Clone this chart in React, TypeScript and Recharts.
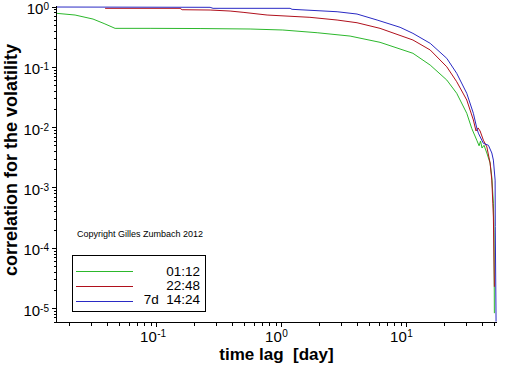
import { LineChart, Line, XAxis, YAxis, Legend } from 'recharts';

// time lag in days, correlation of the volatility
const greenLag = [0.0158, 0.0222, 0.0309, 0.0379, 0.0464, 0.0884, 0.222, 0.558, 1.02, 1.92, 3.52, 6.11, 11.2, 15.4, 20.9, 25.1, 30.2, 33.1, 36.3, 37.9, 38.9, 40.0, 41.5, 43.7, 46.4, 47.9, 49.3, 49.9, 50.2];
const greenCorr = [0.786, 0.737, 0.632, 0.532, 0.443, 0.443, 0.44, 0.432, 0.416, 0.375, 0.33, 0.26, 0.171, 0.109, 0.0616, 0.0371, 0.0173, 0.0097, 0.0062, 0.005, 0.006, 0.0046, 0.0051, 0.0038, 0.0026, 0.0015, 0.00056, 0.00018, 8.4e-6];

const redLag = [0.0386, 0.1536, 0.1594, 0.267, 0.386, 0.49, 0.763, 1.68, 2.77, 4.0, 6.11, 11.2, 15.4, 20.9, 25.1, 30.2, 34.1, 35.8, 37.2, 38.6, 41.0, 43.7, 46.4, 47.9, 48.8, 49.3, 50.2];
const redCorr = [0.952, 0.952, 0.902, 0.892, 0.858, 0.817, 0.737, 0.675, 0.609, 0.549, 0.443, 0.284, 0.194, 0.102, 0.0577, 0.0287, 0.0134, 0.0088, 0.0099, 0.0088, 0.0062, 0.0048, 0.0026, 0.00135, 0.00056, 0.00033, 2.3e-5];

const blueLag = [0.0158, 0.267, 0.282, 1.165, 1.209, 2.77, 4.0, 5.79, 8.84, 11.2, 15.4, 20.9, 25.1, 30.2, 34.1, 36.3, 37.4, 41.0, 45.0, 47.9, 49.3, 50.9, 51.05, 51.8];
const blueCorr = [1.0, 0.989, 0.952, 0.952, 0.916, 0.836, 0.765, 0.609, 0.461, 0.366, 0.25, 0.141, 0.0795, 0.0371, 0.0173, 0.0099, 0.0081, 0.0055, 0.0051, 0.0038, 0.0029, 0.00135, 0.00023, 6.1e-6];

const seriesNames = ['01:12', '22:48', '7d  14:24'];
const seriesColors = ['#2cb82c', '#b0101c', '#2a2ac4'];

const X_DOMAIN = [0.015625, 52.7];
const Y_DOMAIN = [6e-6, 1.04];

const FONT = '"Liberation Sans", Arial, sans-serif';

const toPoints = (lag: number[], corr: number[]) => lag.map((t, i) => ({ t, v: corr[i] }));
const seriesData = [toPoints(greenLag, greenCorr), toPoints(redLag, redCorr), toPoints(blueLag, blueCorr)];

// log ticks: 1..9 x 10^n inside the domain
function logTicks(lo: number, hi: number, nMin: number, nMax: number) {
  const out: number[] = [];
  for (let n = nMin; n <= nMax; n++) {
    for (let m = 1; m <= 9; m++) {
      const v = m * Math.pow(10, n);
      if (v >= lo && v <= hi) out.push(v);
    }
  }
  return out;
}
const xTicks = logTicks(X_DOMAIN[0], X_DOMAIN[1], -2, 1);
const yTicks = logTicks(Y_DOMAIN[0], Y_DOMAIN[1], -6, 0);

const decade = (v: number) => {
  const l = Math.log10(v);
  return Math.abs(l - Math.round(l)) < 1e-6 ? Math.round(l) : null;
};
const expText = (e: number) => (e < 0 ? `-${-e}` : `${e}`);

const XTick = (props: any) => {
  const { x, y, payload } = props;
  const e = decade(payload.value);
  return (
    <g>
      <line x1={x} x2={x} y1={y} y2={y + (e !== null ? 5 : 4)} stroke="#000" shapeRendering="crispEdges" />
      {e !== null && (
        <>
          <text x={x} y={y + 20} textAnchor="end" fontSize={15} fontFamily={FONT} fill="#000">10</text>
          <text x={x + 0.5} y={y + 15} textAnchor="start" fontSize={10} fontFamily={FONT} fill="#000">{expText(e)}</text>
        </>
      )}
    </g>
  );
};

const YTick = (props: any) => {
  const { x, y, payload } = props;
  const e = decade(payload.value);
  return (
    <g>
      <line x1={x - (e !== null ? 4 : 2.5)} x2={x} y1={y} y2={y} stroke="#000" shapeRendering="crispEdges" />
      {e !== null && (
        <text x={x - 7} y={y + 7} textAnchor="end" fontFamily={FONT} fill="#000">
          <tspan fontSize={15}>10</tspan>
          <tspan fontSize={10} dy={-4}>{expText(e)}</tspan>
        </text>
      )}
    </g>
  );
};

const XTitle = (props: any) => {
  const vb = props.viewBox;
  return (
    <text x={vb.x + vb.width / 2} y={vb.y + 38} textAnchor="middle" fontSize={17} fontWeight="bold" fontFamily={FONT} fill="#000" xmlSpace="preserve" style={{ whiteSpace: 'pre' }}>
      time lag  [day]
    </text>
  );
};

const YTitle = (props: any) => {
  const vb = props.viewBox;
  const cx = vb.x + 17;
  const cy = vb.y + vb.height / 2 - 4;
  return (
    <text x={cx} y={cy} transform={`rotate(-90 ${cx} ${cy})`} textAnchor="middle" fontSize={18} fontWeight="bold" fontFamily={FONT} fill="#000">
      correlation for the volatility
    </text>
  );
};

const LegendBox = () => (
  <svg width={134} height={57} style={{ display: 'block' }}>
    <rect x={0.5} y={0.5} width={133} height={56} fill="#fff" stroke="#000" shapeRendering="crispEdges" />
    {seriesNames.map((name, i) => (
      <g key={name}>
        <line x1={4} x2={61} y1={16.5 + i * 15} y2={16.5 + i * 15} stroke={seriesColors[i]} shapeRendering="crispEdges" />
        <text x={128} y={21 + i * 14} textAnchor="end" fontSize={13.5} fontFamily={FONT} fill="#000" xmlSpace="preserve" style={{ whiteSpace: 'pre' }}>
          {name}
        </text>
      </g>
    ))}
  </svg>
);

export default function App() {
  return (
    <div style={{ position: 'absolute', left: 0, top: 0, width: 512, height: 366, background: '#fff', fontFamily: FONT }}>
      <LineChart width={512} height={366} margin={{ top: 6, right: 15, bottom: 0, left: 0 }}>
        <XAxis
          type="number"
          dataKey="t"
          scale="log"
          domain={X_DOMAIN}
          allowDataOverflow
          ticks={xTicks}
          interval={0}
          tick={<XTick />}
          tickLine={false}
          tickSize={0}
          tickMargin={0}
          height={44}
          axisLine={{ stroke: '#000', shapeRendering: 'crispEdges' }}
          label={<XTitle />}
        />
        <YAxis
          type="number"
          dataKey="v"
          scale="log"
          domain={Y_DOMAIN}
          allowDataOverflow
          ticks={yTicks}
          interval={0}
          tick={<YTick />}
          tickLine={false}
          tickSize={0}
          tickMargin={0}
          width={56}
          axisLine={{ stroke: '#000', shapeRendering: 'crispEdges' }}
          label={<YTitle />}
        />
        <Legend
          layout="horizontal"
          verticalAlign="middle"
          align="center"
          content={<LegendBox />}
          wrapperStyle={{ left: 72, top: 255, width: 134, height: 57 }}
        />
        {seriesData.map((d, i) => (
          <Line
            key={seriesNames[i]}
            data={d}
            dataKey="v"
            name={seriesNames[i]}
            type="linear"
            stroke={seriesColors[i]}
            strokeWidth={1}
            dot={false}
            isAnimationActive={false}
          />
        ))}
      </LineChart>
      <div style={{ position: 'absolute', left: 77, top: 230, fontSize: 9, lineHeight: '9px', whiteSpace: 'nowrap', color: '#000' }}>
        Copyright Gilles Zumbach 2012
      </div>
    </div>
  );
}
